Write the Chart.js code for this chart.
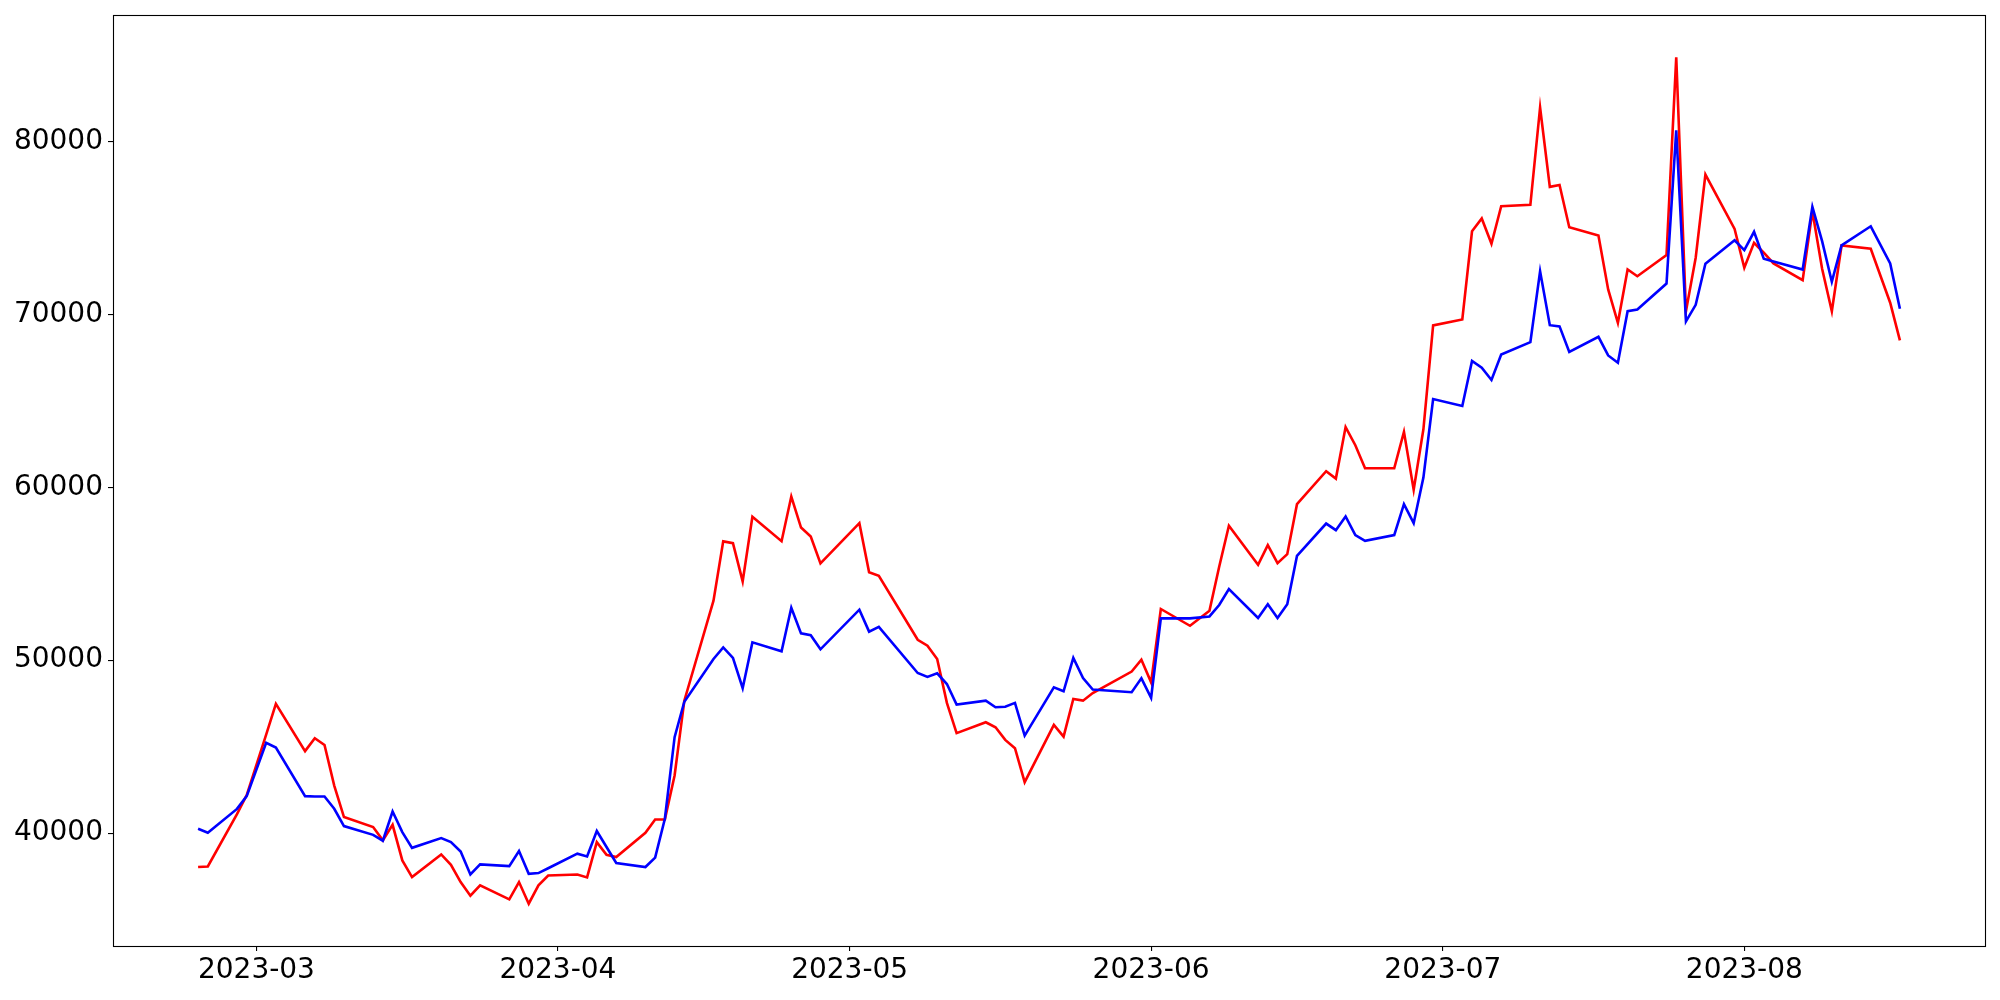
<!DOCTYPE html>
<html>
<head>
<meta charset="utf-8">
<script src="https://cdn.jsdelivr.net/npm/chart.js@4.4.1/dist/chart.umd.min.js"></script>
<style>
  html, body { margin: 0; padding: 0; background: #ffffff; }
  #wrap { width: 2000px; height: 1000px; }
</style>
</head>
<body>
<div id="wrap"><canvas id="c" width="2000" height="1000"></canvas></div>
<script>
// ---- data ----
const dates = [
  '2023-02-23','2023-02-24','2023-02-27','2023-02-28',
  '2023-03-02','2023-03-03','2023-03-06','2023-03-07','2023-03-08','2023-03-09','2023-03-10',
  '2023-03-13','2023-03-14','2023-03-15','2023-03-16','2023-03-17',
  '2023-03-20','2023-03-21','2023-03-22','2023-03-23','2023-03-24',
  '2023-03-27','2023-03-28','2023-03-29','2023-03-30','2023-03-31',
  '2023-04-03','2023-04-04','2023-04-05','2023-04-06','2023-04-07',
  '2023-04-10','2023-04-11','2023-04-12','2023-04-13','2023-04-14',
  '2023-04-17','2023-04-18','2023-04-19','2023-04-20','2023-04-21',
  '2023-04-24','2023-04-25','2023-04-26','2023-04-27','2023-04-28',
  '2023-05-02','2023-05-03','2023-05-04',
  '2023-05-08','2023-05-09','2023-05-10','2023-05-11','2023-05-12',
  '2023-05-15','2023-05-16','2023-05-17','2023-05-18','2023-05-19',
  '2023-05-22','2023-05-23','2023-05-24','2023-05-25','2023-05-26',
  '2023-05-30','2023-05-31','2023-06-01','2023-06-02',
  '2023-06-05','2023-06-07','2023-06-08','2023-06-09',
  '2023-06-12','2023-06-13','2023-06-14','2023-06-15','2023-06-16',
  '2023-06-19','2023-06-20','2023-06-21','2023-06-22','2023-06-23',
  '2023-06-26','2023-06-27','2023-06-28','2023-06-29','2023-06-30',
  '2023-07-03','2023-07-04','2023-07-05','2023-07-06','2023-07-07',
  '2023-07-10','2023-07-11','2023-07-12','2023-07-13','2023-07-14',
  '2023-07-17','2023-07-18','2023-07-19','2023-07-20','2023-07-21',
  '2023-07-24','2023-07-25','2023-07-26','2023-07-27','2023-07-28',
  '2023-07-31','2023-08-01','2023-08-02','2023-08-03','2023-08-04',
  '2023-08-07','2023-08-08','2023-08-09','2023-08-10','2023-08-11',
  '2023-08-14','2023-08-16','2023-08-17'
];

const redValues = [
  38040, 38070, 41100, 42200,
  45700, 47470, 44740, 45490, 45100, 42750, 40930,
  40350, 39580, 40480, 38420, 37460,
  38770, 38170, 37170, 36380, 36980,
  36170, 37170, 35920, 36980, 37550,
  37610, 37440, 39480, 38750, 38620,
  40020, 40790, 40790, 43330, 47660,
  53440, 56870, 56770, 54560, 58290,
  56880, 59460, 57670, 57150, 55600,
  57920, 55080, 54880,
  51180, 50840, 50070, 47530, 45780,
  46410, 46120, 45390, 44910, 42950,
  46260, 45580, 47760, 47660, 48100,
  49340, 50030, 48720, 52960,
  51990, 52860, 55400, 57770,
  55510, 56650, 55610, 56130, 59020,
  60930, 60500, 63480, 62430, 61100,
  61100, 63200, 59850, 63350, 69360,
  69700, 74800, 75540, 74080, 76250,
  76330, 81960, 77370, 77480, 75030,
  74550, 71440, 69510, 72590, 72200,
  73420, 84860, 70180, 73270, 78080,
  74940, 72690, 74130, 73560, 72940,
  71970, 75960, 72630, 70180, 73980,
  73790, 70670, 68490
];

const blueValues = [
  40250, 40020, 41400, 42140,
  45220, 44950, 42140, 42120, 42120, 41410, 40410,
  39900, 39560, 41250, 40060, 39150,
  39710, 39480, 38940, 37610, 38190,
  38090, 38970, 37650, 37690, 37970,
  38810, 38650, 40120, 39200, 38270,
  38040, 38580, 40830, 45550, 47600,
  50070, 50740, 50130, 48380, 51030,
  50510, 53030, 51550, 51440, 50630,
  52920, 51650, 51930,
  49260, 49030, 49240, 48620, 47430,
  47660, 47280, 47310, 47530, 45640,
  48430, 48200, 50130, 48970, 48300,
  48150, 48950, 47820, 52420,
  52420, 52530, 53190, 54110,
  52440, 53230, 52440, 53230, 56030,
  57900, 57520, 58310, 57230, 56900,
  57230, 59020, 57920, 60560, 65100,
  64700, 67300, 66910, 66200, 67680,
  68390, 72490, 69370, 69300, 67820,
  68700, 67620, 67200, 70180, 70280,
  71780, 80640, 69590, 70550, 72920,
  74280, 73710, 74770, 73210, 73050,
  72590, 76210, 74230, 71880, 73990,
  75090, 72940, 70320
];

const xTickLabels = ['2023-03', '2023-04', '2023-05', '2023-06', '2023-07', '2023-08'];
const yTickValues = [40000, 50000, 60000, 70000, 80000];

// ---- helpers ----
function dayNum(s) {
  const p = s.split('-').map(Number);
  return Date.UTC(p[0], p[1] - 1, p[2] || 1) / 86400000;
}
const xs = dates.map(dayNum);
const redPoints = xs.map((x, i) => ({ x: x, y: redValues[i] }));
const bluePoints = xs.map((x, i) => ({ x: x, y: blueValues[i] }));
const xTickValues = xTickLabels.map(l => dayNum(l + '-01'));
const labelByValue = {};
xTickValues.forEach((v, i) => { labelByValue[v] = xTickLabels[i]; });

// matplotlib-like 5% margins
const xMinD = Math.min(...xs), xMaxD = Math.max(...xs);
const xPad = (xMaxD - xMinD) * 0.05;
const allY = redValues.concat(blueValues);
const yMinD = Math.min(...allY), yMaxD = Math.max(...allY);
const yPad = (yMaxD - yMinD) * 0.05;

const framePlugin = {
  id: 'frame',
  afterDraw(chart) {
    const a = chart.chartArea, ctx = chart.ctx;
    ctx.save();
    ctx.strokeStyle = '#000000';
    ctx.lineWidth = 1.1;
    ctx.strokeRect(Math.round(a.left) + 0.5, Math.round(a.top) + 0.5,
                   Math.round(a.right - a.left), Math.round(a.bottom - a.top));
    ctx.restore();
  }
};

const tickFont = { family: 'DejaVu Sans', size: 28 };

new Chart(document.getElementById('c'), {
  type: 'line',
  data: {
    datasets: [
      { data: bluePoints, borderColor: '#0000ff', borderWidth: 2.6, pointRadius: 0, tension: 0, fill: false },
      { data: redPoints, borderColor: '#ff0000', borderWidth: 2.6, pointRadius: 0, tension: 0, fill: false }
    ]
  },
  options: {
    responsive: false,
    animation: false,
    devicePixelRatio: 1,
    layout: { padding: { left: 0, right: 15, top: 15, bottom: 0 } },
    plugins: { legend: { display: false }, tooltip: { enabled: false }, title: { display: false } },
    scales: {
      x: {
        type: 'linear',
        min: xMinD - xPad,
        max: xMaxD + xPad,
        afterBuildTicks(scale) { scale.ticks = xTickValues.map(v => ({ value: v })); },
        afterFit(scale) { scale.height = 54; scale.paddingLeft = 0; scale.paddingRight = 0; },
        ticks: {
          autoSkip: false, maxRotation: 0, minRotation: 0,
          color: '#000000', font: tickFont, padding: 3,
          callback: (v) => labelByValue[v] || ''
        },
        grid: { display: true, drawOnChartArea: false, drawTicks: true, tickLength: 5, color: '#000000', lineWidth: 1.1 },
        border: { display: false }
      },
      y: {
        type: 'linear',
        min: yMinD - yPad,
        max: yMaxD + yPad,
        afterBuildTicks(scale) { scale.ticks = yTickValues.map(v => ({ value: v })); },
        afterFit(scale) { scale.width = 113; scale.paddingTop = 0; scale.paddingBottom = 0; },
        ticks: {
          color: '#000000', font: tickFont, padding: 5,
          callback: (v) => String(v)
        },
        grid: { display: true, drawOnChartArea: false, drawTicks: true, tickLength: 5, color: '#000000', lineWidth: 1.1 },
        border: { display: false }
      }
    }
  },
  plugins: [framePlugin]
});
</script>
</body>
</html>
